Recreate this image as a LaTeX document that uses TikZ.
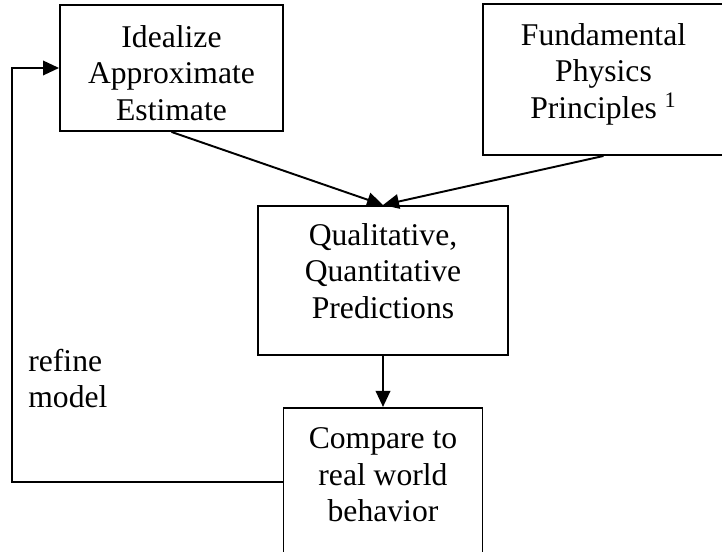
\documentclass[tikz,border=0pt]{standalone}
\usepackage{fontspec}
\setmainfont{Liberation Serif}
\usepackage{tikz}
\usetikzlibrary{positioning, arrows.meta}

\begin{document}
\begin{tikzpicture}[
        box/.style={rectangle, draw=black, line width=1.1pt, align=center, inner sep=2pt, font=\fontsize{18}{20.7}\selectfont},
        arrow/.style={-{Triangle[length=0.32cm, width=0.29cm]}, line width=1.1pt}
        ]
        \useasboundingbox (0,0) rectangle (14.44,11.04);

        % the rules only shift the text inside its box
        \node[box, minimum width=4.46cm, minimum height=2.52cm] (idealize) at (3.43,9.68) {\rule{0pt}{0.64cm}Idealize\\Approximate\\Estimate};
        \node[box, minimum width=4.82cm, minimum height=3.02cm] (principles) at (12.07,9.45) {Fundamental\\Physics\\Principles \textsuperscript{1}\rule[-0.35cm]{0pt}{0.35cm}};
        \node[box, minimum width=5cm, minimum height=2.98cm] (predictions) at (7.66,5.43) {Qualitative,\\Quantitative\\Predictions\rule[-0.39cm]{0pt}{0.39cm}};
        \node[box, minimum width=3.98cm, minimum height=2.98cm, below=1.02cm of predictions] (compare) {Compare to\\real world\\behavior\rule[-0.31cm]{0pt}{0.31cm}};
        \node[anchor=north west, inner sep=0pt, align=left, font=\fontsize{18}{20.7}\selectfont] (refine) at (0.56,4.07) {refine\\model};

        \coordinate (back) at (0.24,0);

        \draw[arrow] (idealize.south) -- (predictions.north);
        \draw[arrow] (principles.south) -- (predictions.north);
        \draw[arrow] (predictions) -- (compare);
        \draw[arrow] (compare.west) -- (compare.west -| back) |- (idealize.west);
    \end{tikzpicture}
\end{document}
